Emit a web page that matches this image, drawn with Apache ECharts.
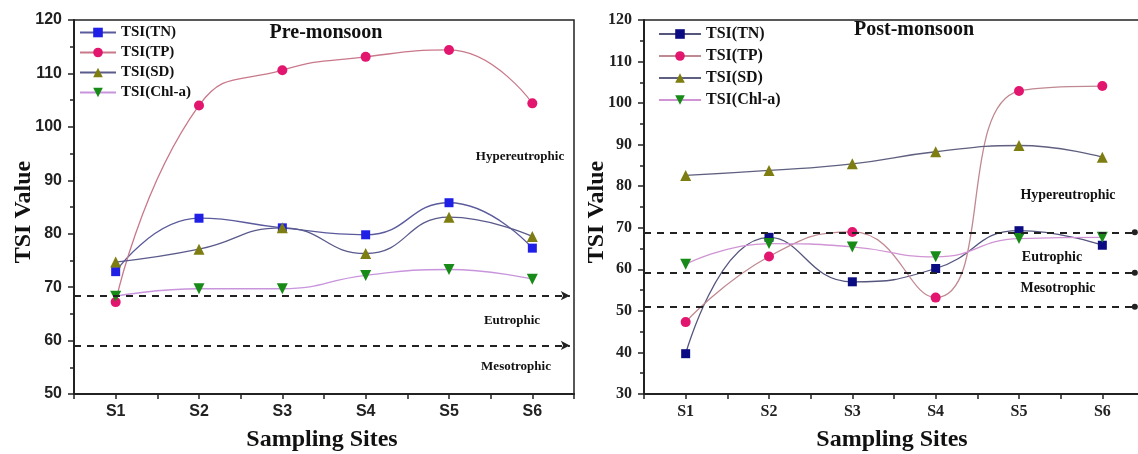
<!DOCTYPE html>
<html lang="en">
<head>
    <meta charset="UTF-8">
    <title>TSI Pre / Post monsoon</title>
    <style>
        body { margin: 0; background: #fff; }
        #main { width: 1138px; height: 454px; }
    </style>
    <script src="https://cdnjs.cloudflare.com/ajax/libs/echarts/6.0.0/echarts.min.js"></script>
</head>
<body>
    <div id="main"></div>
    <script>
        // sampling sites on the x axis
        const sites = ['S1', 'S2', 'S3', 'S4', 'S5', 'S6'];

        // Pre-monsoon values
        const preTN = [72.9, 82.9, 81.1, 79.8, 85.8, 77.3];
        const preTP = [67.2, 104.0, 110.6, 113.1, 114.4, 104.4];
        const preSD = [74.7, 77.1, 81.1, 76.3, 83.1, 79.5];
        const preChla = [68.3, 69.7, 69.7, 72.2, 73.3, 71.5];
        const preLevels = [68.4, 59.1];

        // Post-monsoon values
        const postTN = [39.7, 67.7, 57.0, 60.2, 69.3, 65.8];
        const postTP = [47.3, 63.1, 69.0, 53.2, 102.9, 104.1];
        const postSD = [82.6, 83.8, 85.4, 88.3, 89.8, 87.0];
        const postChla = [61.2, 66.2, 65.4, 63.0, 67.4, 67.7];
        const postLevels = [68.9, 59.2, 51.0];

        const serif = '"Liberation Serif", "Times New Roman", serif';
        const sans = '"Liberation Sans", Arial, sans-serif';

        const chart = echarts.init(document.getElementById('main'));

        function pairs(vals) {
            return vals.map((v, i) => [i + 1, v]);
        }

        function xAxisOf(grid, font) {
            return {
                type: 'value', gridIndex: grid, min: 0.5, max: 6.5, interval: 0.5,
                axisLine: { lineStyle: { color: '#222', width: 2 } },
                axisTick: { inside: false, length: 5, lineStyle: { color: '#222', width: 1.5 } },
                splitLine: { show: false },
                axisLabel: {
                    margin: 10, color: '#222', fontWeight: 'bold', fontSize: 16, fontFamily: font,
                    formatter: v => Number.isInteger(v) ? sites[v - 1] : ''
                }
            };
        }

        function yAxisOf(grid, min, font) {
            return {
                type: 'value', gridIndex: grid, min: min, max: 120, interval: 10,
                axisLine: { show: true, lineStyle: { color: '#222', width: 2 } },
                axisTick: { show: true, length: 6, lineStyle: { color: '#222', width: 1.5 } },
                minorTick: { show: true, splitNumber: 2, length: 4, lineStyle: { color: '#222', width: 1.5 } },
                splitLine: { show: false },
                axisLabel: { margin: 12, color: '#222', fontWeight: 'bold', fontSize: 16, fontFamily: font }
            };
        }

        function line(name, idx, vals, shape, size, rotate, mColor, lColor) {
            return {
                name: name, type: 'line', xAxisIndex: idx, yAxisIndex: idx,
                data: pairs(vals), smooth: 0.5,
                symbol: shape, symbolSize: size, symbolRotate: rotate,
                itemStyle: { color: mColor },
                lineStyle: { color: lColor, width: 1.3 },
                z: 3
            };
        }

        function levels(idx, vals, endX, endSymbol) {
            return {
                name: 'levels' + idx, type: 'line', xAxisIndex: idx, yAxisIndex: idx, data: [],
                markLine: {
                    silent: true, animation: false,
                    symbol: ['none', endSymbol], symbolSize: endSymbol === 'arrow' ? [7, 9] : 6,
                    label: { show: false },
                    lineStyle: { color: '#222', type: [7, 6], width: 2 },
                    data: vals.map(v => [{ coord: [0.5, v] }, { coord: [endX, v] }])
                }
            };
        }

        function txt(x, y, text, size, rot) {
            return {
                type: 'text', x: x, y: y, rotation: rot || 0,
                style: {
                    text: text, fill: '#111', font: 'bold ' + size + 'px ' + serif,
                    align: 'center', verticalAlign: 'middle',
                    textAlign: 'center', textVerticalAlign: 'middle'
                }
            };
        }

        const option = {
            animation: false,
            grid: [
                { left: 74, top: 20, width: 500, height: 374, outerBoundsMode: 'none', show: true, borderColor: '#222', borderWidth: 1.5 },
                { left: 644, top: 20, width: 500, height: 374, outerBoundsMode: 'none', show: true, borderColor: '#222', borderWidth: 1.5 }
            ],
            xAxis: [xAxisOf(0, sans), xAxisOf(1, serif)],
            yAxis: [yAxisOf(0, 50, sans), yAxisOf(1, 30, serif)],
            legend: [
                {
                    orient: 'vertical', left: 74, top: 20, itemWidth: 36, itemHeight: 12, itemGap: 5,
                    data: ['TSI(TN)#pre', 'TSI(TP)#pre', 'TSI(SD)#pre', 'TSI(Chl-a)#pre'],
                    formatter: n => n.split('#')[0],
                    textStyle: { fontFamily: serif, fontWeight: 'bold', fontSize: 15, color: '#111' }
                },
                {
                    orient: 'vertical', left: 653, top: 21, itemWidth: 42, itemHeight: 12, itemGap: 6,
                    data: ['TSI(TN)#post', 'TSI(TP)#post', 'TSI(SD)#post', 'TSI(Chl-a)#post'],
                    formatter: n => n.split('#')[0],
                    textStyle: { fontFamily: serif, fontWeight: 'bold', fontSize: 16, color: '#111' }
                }
            ],
            graphic: [
                txt(326, 33, 'Pre-monsoon', 20),
                txt(914, 30, 'Post-monsoon', 20),
                txt(520, 157, 'Hypereutrophic', 13),
                txt(512, 321, 'Eutrophic', 13),
                txt(516, 367, 'Mesotrophic', 13),
                txt(1068, 195, 'Hypereutrophic', 14),
                txt(1052, 257, 'Eutrophic', 14),
                txt(1058, 288, 'Mesotrophic', 14),
                txt(322, 440, 'Sampling Sites', 24),
                txt(892, 440, 'Sampling Sites', 24),
                txt(24, 212, 'TSI Value', 24, Math.PI / 2),
                txt(597, 212, 'TSI Value', 24, Math.PI / 2)
            ],
            series: [
                levels(0, preLevels, 6.45, 'arrow'),
                levels(1, postLevels, 6.39, 'circle'),
                line('TSI(TN)#pre', 0, preTN, 'rect', 9, 0, '#1f1fe6', '#5a5a9c'),
                line('TSI(TP)#pre', 0, preTP, 'circle', 10, 0, '#e3166f', '#c9788a'),
                line('TSI(SD)#pre', 0, preSD, 'triangle', 11, 0, '#7d7d12', '#5a5a8c'),
                line('TSI(Chl-a)#pre', 0, preChla, 'triangle', 11, 180, '#178a17', '#c894dc'),
                line('TSI(TN)#post', 1, postTN, 'rect', 9, 0, '#0c0c82', '#55557e'),
                line('TSI(TP)#post', 1, postTP, 'circle', 10, 0, '#e3166f', '#c08890'),
                line('TSI(SD)#post', 1, postSD, 'triangle', 11, 0, '#7d7d12', '#5f5f80'),
                line('TSI(Chl-a)#post', 1, postChla, 'triangle', 11, 180, '#178a17', '#d094d4')
            ]
        };

        chart.setOption(option);
    </script>
</body>
</html>
